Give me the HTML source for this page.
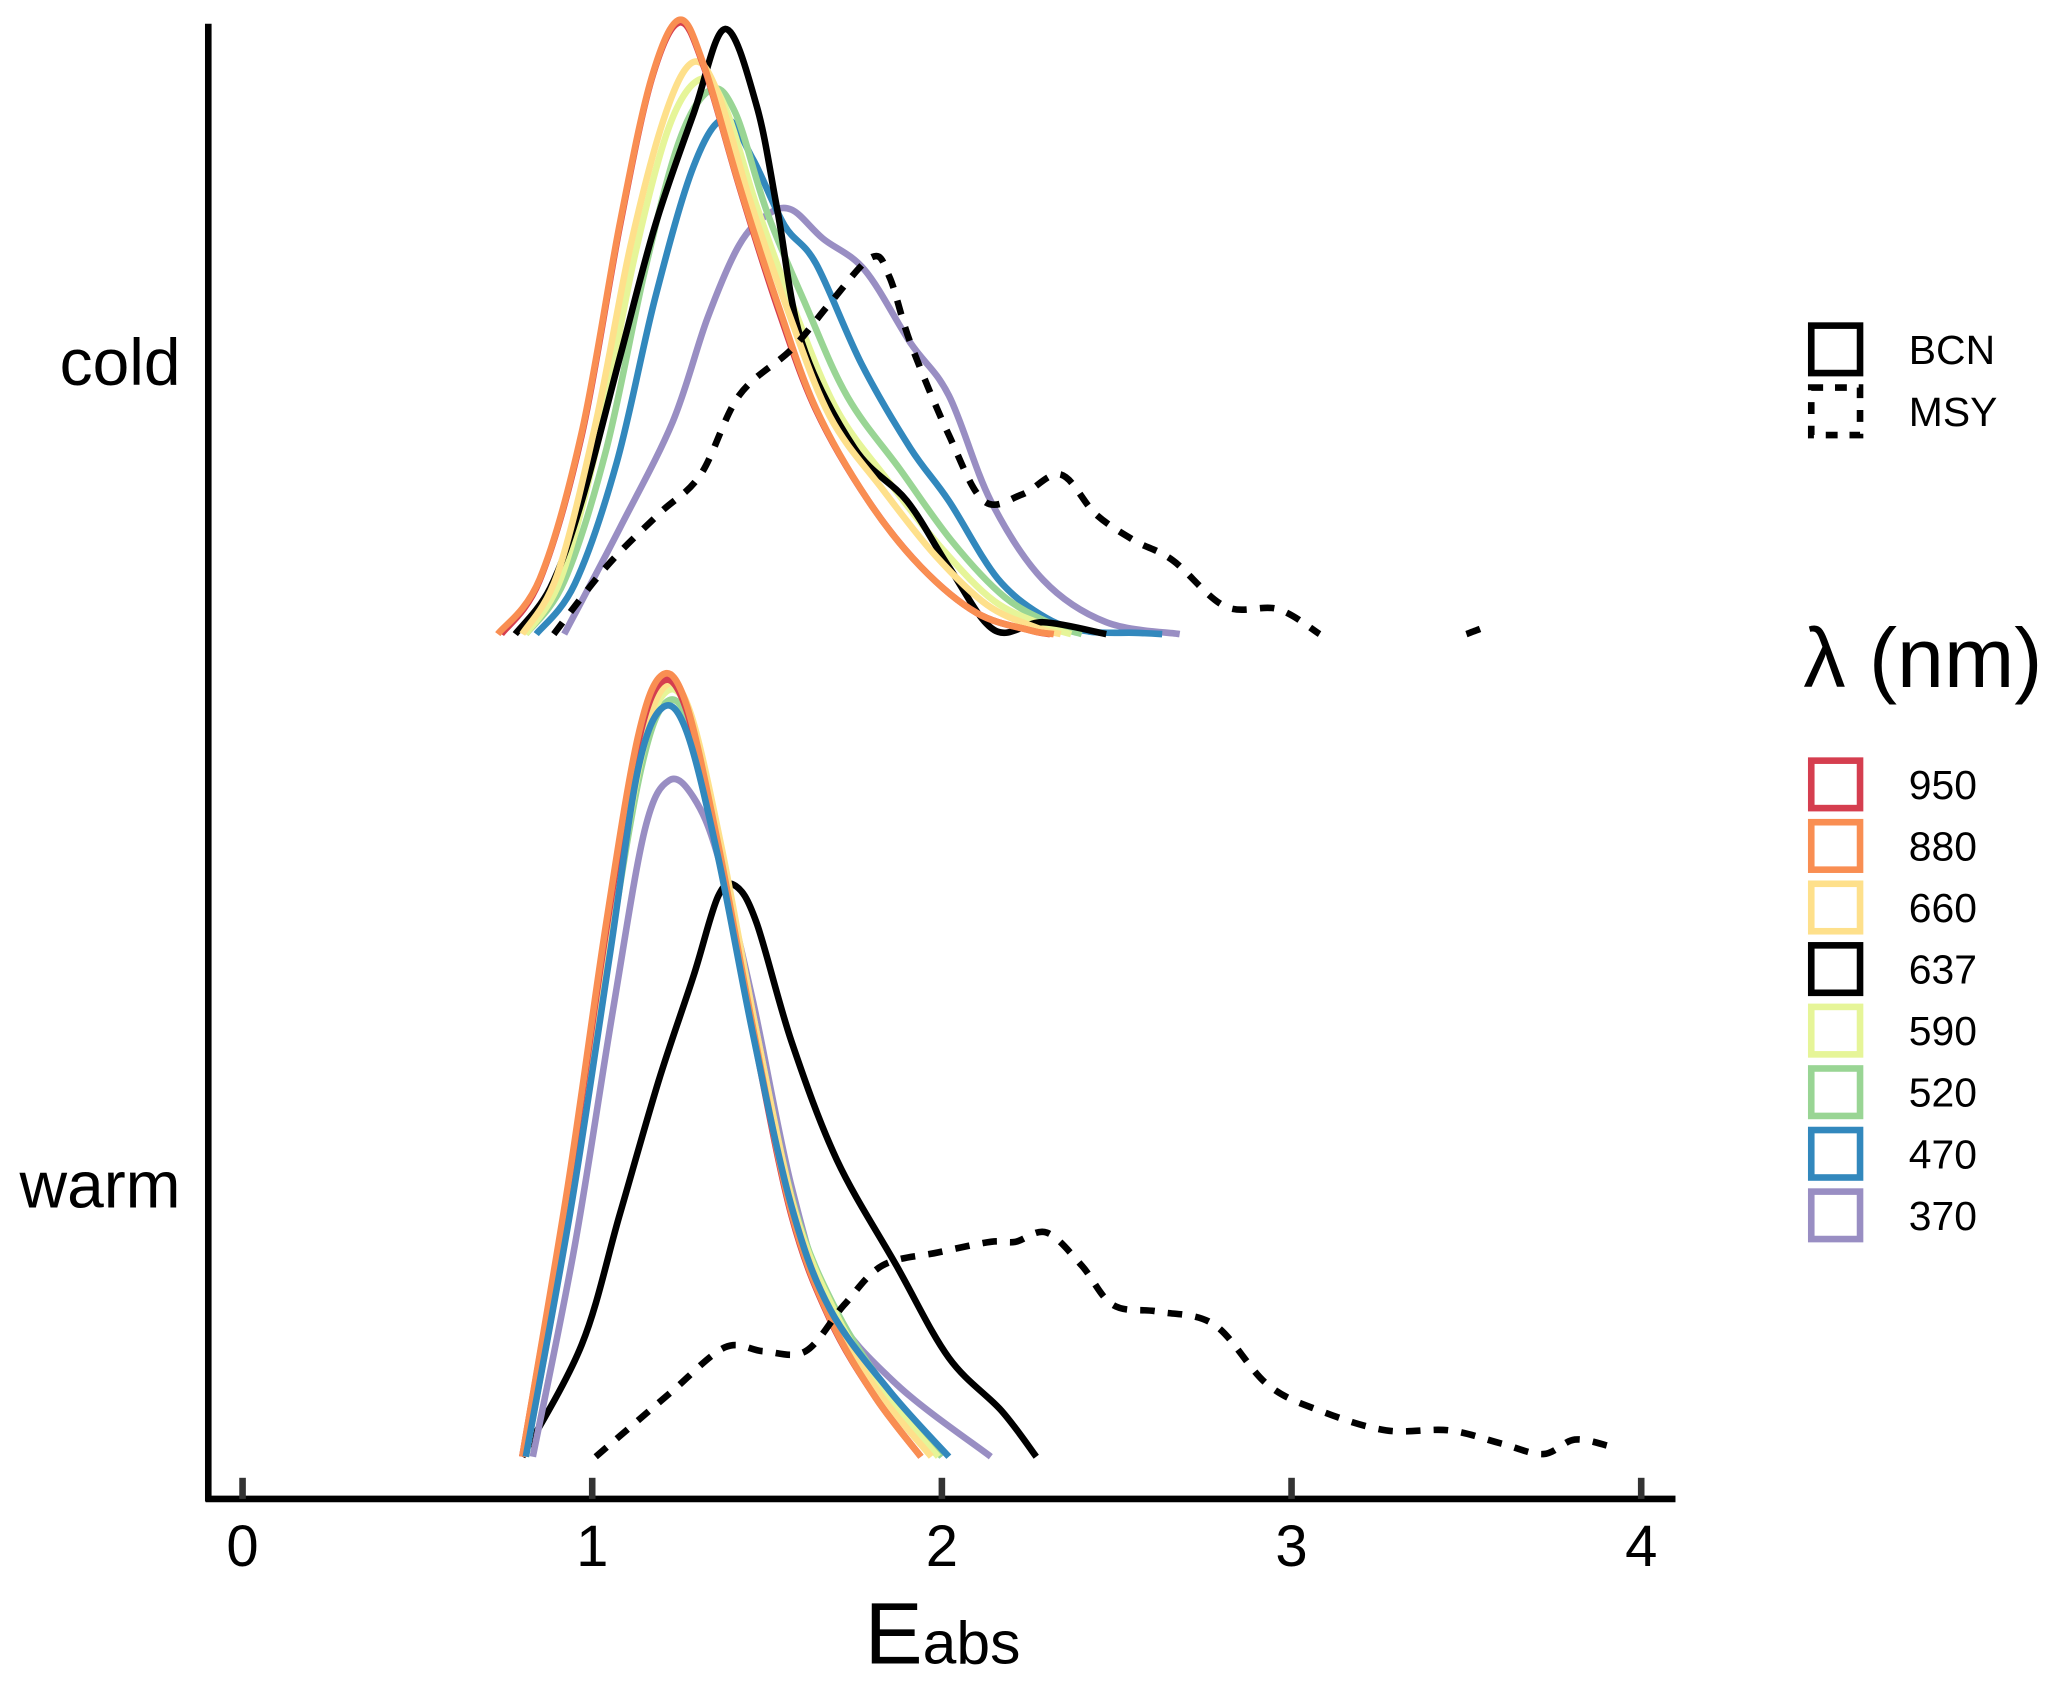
<!DOCTYPE html>
<html><head><meta charset="utf-8"><style>
html,body{margin:0;padding:0;background:#fff}
svg{display:block}
text{font-family:"Liberation Sans",Arial,sans-serif;fill:#000}
</style></head><body>
<svg id="chart" width="2067" height="1694" viewBox="0 0 1568 1285" preserveAspectRatio="none" xmlns="http://www.w3.org/2000/svg">
<g id="plot"></g>
<g>
<line x1="158" y1="18" x2="158" y2="1139" stroke="#000" stroke-width="5"/>
<line x1="156" y1="1137" x2="1271" y2="1137" stroke="#000" stroke-width="5"/>
<text x="137" y="292" font-size="50" text-anchor="end">cold</text>
<text x="137" y="916" font-size="50" text-anchor="end">warm</text>
<text x="715" y="1262" font-size="66" text-anchor="middle">E<tspan font-size="46">abs</tspan></text>
</g>
<g id="xticks"></g>
<g>
<rect x="1374" y="247" width="37" height="36" fill="none" stroke="#000" stroke-width="5"/>
<text x="1448" y="276" font-size="31">BCN</text>
<rect x="1374" y="294" width="37" height="36" fill="none" stroke="#000" stroke-width="5" stroke-dasharray="9,9"/>
<text x="1448" y="323" font-size="31">MSY</text>
<text x="1368" y="521" font-size="64">λ (nm)</text>
<g id="colorlegend"></g>
</g>
</svg>
<script>
const tickValues=[0,1,2,3,4];
const tickLabels=["0","1","2","3","4"];
const groups=["cold","warm"];
const wavelengths=["950","880","660","637","590","520","470","370"];
const colors={"950":"#d53e4f","880":"#f98e52","660":"#fee08b","637":"#000000","590":"#e6f598","520":"#99d594","470":"#3288bd","370":"#998ec3"};

// cold BCN
const cold950x=[0.74,0.85,0.97,1.08,1.17,1.25,1.32,1.42,1.53,1.64,1.79,1.94,2.10,2.25,2.31];
const cold950y=[0,0.41,1.51,3.11,4.21,4.64,4.30,3.40,2.48,1.70,1.01,0.51,0.16,0.03,0];
const cold880x=[0.73,0.85,0.97,1.08,1.17,1.25,1.32,1.42,1.53,1.64,1.79,1.94,2.10,2.25,2.32];
const cold880y=[0,0.42,1.53,3.13,4.22,4.66,4.31,3.41,2.51,1.71,1.01,0.51,0.16,0.03,0];
const cold660x=[0.80,0.90,1.01,1.11,1.21,1.29,1.36,1.45,1.56,1.68,1.83,1.98,2.13,2.27,2.34];
const cold660y=[0,0.45,1.60,2.95,3.95,4.34,4.10,3.30,2.45,1.65,1.10,0.60,0.22,0.05,0];
const cold637x=[0.78,0.88,0.97,1.08,1.18,1.29,1.38,1.47,1.53,1.60,1.75,1.90,2.02,2.15,2.29,2.47];
const cold637y=[0,0.35,1.01,2.11,3.10,3.95,4.59,4.01,3.21,2.21,1.41,1.01,0.51,0.03,0.09,0];
const cold590x=[0.81,0.91,1.02,1.12,1.22,1.31,1.38,1.47,1.58,1.70,1.85,2.00,2.15,2.30,2.37];
const cold590y=[0,0.42,1.50,2.85,3.85,4.21,4.00,3.25,2.45,1.70,1.15,0.65,0.25,0.06,0];
const cold520x=[0.81,0.92,1.04,1.15,1.25,1.34,1.41,1.50,1.61,1.73,1.88,2.03,2.18,2.32,2.40];
const cold520y=[0,0.40,1.40,2.75,3.75,4.13,3.95,3.20,2.50,1.80,1.25,0.70,0.28,0.07,0];
const cold470x=[0.84,0.95,1.07,1.18,1.29,1.38,1.46,1.55,1.64,1.77,1.91,2.02,2.16,2.30,2.42,2.55,2.63];
const cold470y=[0,0.38,1.30,2.55,3.55,3.91,3.60,3.10,2.81,2.05,1.41,1.01,0.42,0.12,0.02,0.01,0];
const cold370x=[0.92,1.08,1.23,1.33,1.42,1.50,1.57,1.66,1.78,1.91,2.02,2.14,2.29,2.47,2.68];
const cold370y=[0,0.81,1.61,2.40,2.95,3.18,3.22,3.00,2.76,2.21,1.81,1.01,0.41,0.09,0];
const coldMSYx=[0.89,1.04,1.19,1.31,1.42,1.57,1.68,1.80,1.85,1.91,2.02,2.12,2.23,2.34,2.44,2.55,2.66,2.81,2.96,3.08];
const coldMSYy=[0,0.51,0.91,1.21,1.81,2.16,2.51,2.86,2.71,2.21,1.51,1.01,1.06,1.21,0.91,0.71,0.56,0.21,0.19,0];
const coldMSY2x=[3.50,3.52,3.55];
const coldMSY2y=[0,0.02,0.05];

// warm BCN
const warm950x=[0.80,0.93,1.04,1.13,1.20,1.27,1.36,1.46,1.57,1.68,1.81,1.94];
const warm950y=[0,2.02,4.00,5.40,5.88,5.66,4.62,3.22,1.83,1.04,0.45,0];
const warm880x=[0.80,0.93,1.04,1.13,1.20,1.27,1.36,1.46,1.57,1.68,1.81,1.94];
const warm880y=[0,2.05,4.05,5.45,5.93,5.70,4.65,3.25,1.85,1.05,0.45,0];
const warm660x=[0.81,0.94,1.05,1.14,1.21,1.28,1.37,1.47,1.58,1.69,1.83,1.97];
const warm660y=[0,2.00,3.95,5.35,5.85,5.65,4.62,3.22,1.85,1.05,0.45,0];
const warm590x=[0.81,0.94,1.05,1.14,1.21,1.28,1.37,1.47,1.58,1.70,1.84,1.99];
const warm590y=[0,1.95,3.90,5.30,5.80,5.62,4.60,3.22,1.86,1.07,0.47,0];
const warm520x=[0.81,0.94,1.05,1.14,1.21,1.28,1.37,1.47,1.58,1.70,1.85,2.00];
const warm520y=[0,1.92,3.85,5.22,5.72,5.55,4.58,3.22,1.88,1.10,0.48,0];
const warm637x=[0.80,0.97,1.08,1.19,1.29,1.36,1.41,1.47,1.57,1.70,1.87,2.02,2.17,2.27];
const warm637y=[0,0.85,1.85,2.85,3.65,4.25,4.33,4.05,3.15,2.25,1.45,0.75,0.35,0];
const warm470x=[0.81,0.94,1.05,1.13,1.20,1.27,1.36,1.46,1.57,1.68,1.85,2.02];
const warm470y=[0,1.90,3.80,5.20,5.68,5.50,4.55,3.20,1.90,1.12,0.50,0];
const warm370x=[0.83,0.95,1.06,1.15,1.22,1.29,1.36,1.46,1.57,1.68,1.87,2.14];
const warm370y=[0,1.60,3.40,4.75,5.13,5.00,4.55,3.45,2.05,1.15,0.55,0];
const warmMSYx=[1.01,1.12,1.23,1.38,1.49,1.61,1.72,1.83,1.99,2.14,2.21,2.30,2.40,2.49,2.62,2.78,2.93,3.08,3.27,3.45,3.60,3.72,3.81,3.91];
const warmMSYy=[0,0.25,0.50,0.83,0.80,0.80,1.15,1.45,1.55,1.63,1.63,1.70,1.45,1.15,1.10,1.00,0.55,0.35,0.20,0.20,0.10,0.02,0.13,0.08];

const series=[
 ["cold","370","solid",cold370x,cold370y],["cold","470","solid",cold470x,cold470y],
 ["cold","520","solid",cold520x,cold520y],["cold","590","solid",cold590x,cold590y],
 ["cold","637","solid",cold637x,cold637y],["cold","660","solid",cold660x,cold660y],
 ["cold","950","solid",cold950x,cold950y],["cold","880","solid",cold880x,cold880y],
 ["cold","637","dash",coldMSYx,coldMSYy],["cold","637","dash",coldMSY2x,coldMSY2y],
 ["warm","637","solid",warm637x,warm637y],["warm","370","solid",warm370x,warm370y],
 ["warm","520","solid",warm520x,warm520y],["warm","590","solid",warm590x,warm590y],
 ["warm","660","solid",warm660x,warm660y],["warm","950","solid",warm950x,warm950y],
 ["warm","880","solid",warm880x,warm880y],["warm","470","solid",warm470x,warm470y],
 ["warm","637","dash",warmMSYx,warmMSYy]
];

const NS="http://www.w3.org/2000/svg";
function xScale(v){return 184+v*265.25;}
const baselines={cold:481,warm:1105};
function yScale(g,d){return baselines[g]-d*100;}

function smoothPath(pts){
  let d="M"+pts[0][0].toFixed(1)+","+pts[0][1].toFixed(1);
  for(let i=0;i<pts.length-1;i++){
    const p0=pts[i-1]||pts[i],p1=pts[i],p2=pts[i+1],p3=pts[i+2]||p2;
    const c1=[p1[0]+(p2[0]-p0[0])/6,p1[1]+(p2[1]-p0[1])/6];
    const c2=[p2[0]-(p3[0]-p1[0])/6,p2[1]-(p3[1]-p1[1])/6];
    d+="C"+c1[0].toFixed(1)+","+c1[1].toFixed(1)+" "+c2[0].toFixed(1)+","+c2[1].toFixed(1)+" "+p2[0].toFixed(1)+","+p2[1].toFixed(1);
  }
  return d;
}

const plot=document.getElementById("plot");
series.forEach(s=>{
  const [g,wl,lt,xs,ys]=s;
  const pts=xs.map((x,i)=>[xScale(x),yScale(g,ys[i])]);
  const p=document.createElementNS(NS,"path");
  p.setAttribute("d",smoothPath(pts));
  p.setAttribute("fill","none");
  p.setAttribute("stroke",colors[wl]);
  p.setAttribute("stroke-width","5");
  p.setAttribute("stroke-linejoin","round");
  if(lt==="dash")p.setAttribute("stroke-dasharray","11,10");
  
  
  plot.appendChild(p);
});

const xt=document.getElementById("xticks");
tickValues.forEach((v,i)=>{
  const l=document.createElementNS(NS,"line");
  l.setAttribute("x1",xScale(v));l.setAttribute("x2",xScale(v));
  l.setAttribute("y1",1121);l.setAttribute("y2",1137);
  l.setAttribute("stroke","#333");l.setAttribute("stroke-width","5");
  
  
  xt.appendChild(l);
  const t=document.createElementNS(NS,"text");
  t.setAttribute("x",xScale(v));t.setAttribute("y",1188);
  t.setAttribute("font-size","44");t.setAttribute("text-anchor","middle");
  t.textContent=tickLabels[i];
  
  
  xt.appendChild(t);
});

const cl=document.getElementById("colorlegend");
wavelengths.forEach((w,i)=>{
  const cy=595+i*46.7;
  const r=document.createElementNS(NS,"rect");
  r.setAttribute("x",1374);r.setAttribute("y",cy-18);
  r.setAttribute("width",37);r.setAttribute("height",36);
  r.setAttribute("fill","none");r.setAttribute("stroke",colors[w]);r.setAttribute("stroke-width","5");
  
  
  cl.appendChild(r);
  const t=document.createElementNS(NS,"text");
  t.setAttribute("x",1448);t.setAttribute("y",cy+11);t.setAttribute("font-size","31");
  t.textContent=w;
  
  
  cl.appendChild(t);
});
</script>
</body></html>
